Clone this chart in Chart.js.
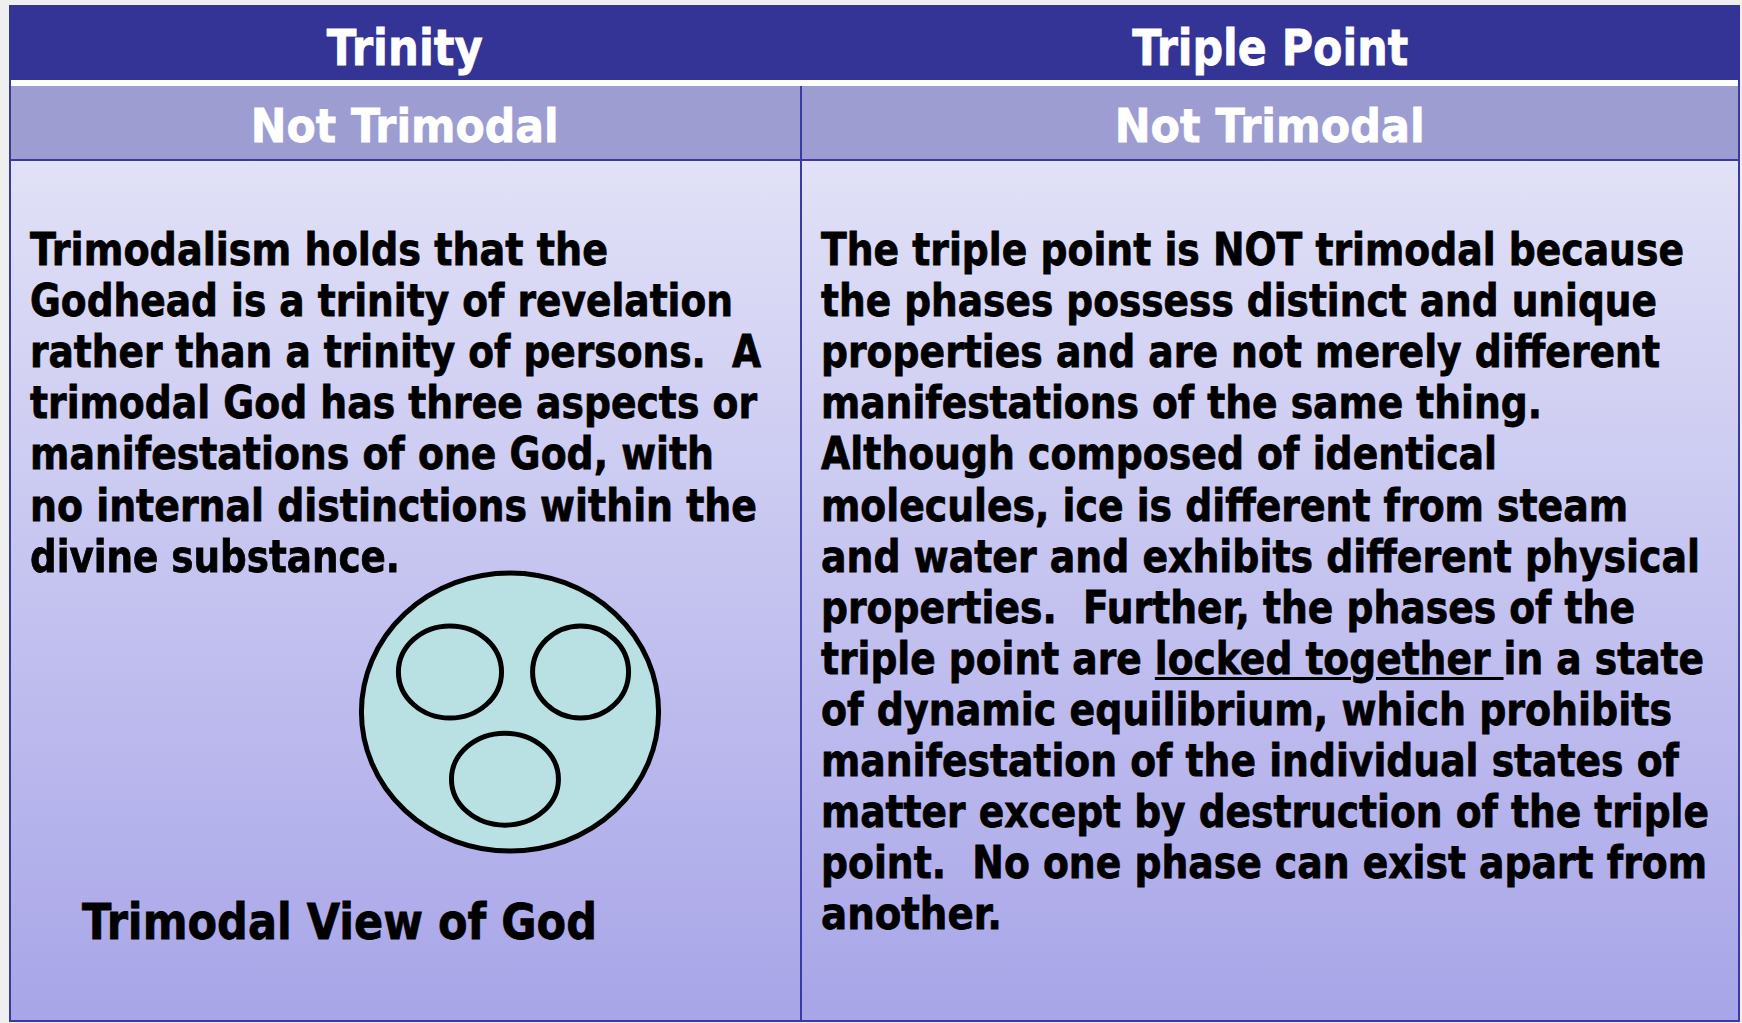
<!DOCTYPE html>
<html lang="en">
<head>
<meta charset="utf-8">
<title>Trinity / Triple Point</title>
<script src="https://cdn.jsdelivr.net/npm/chart.js@4.4.1/dist/chart.umd.min.js"></script>
<style>
    html, body { margin: 0; padding: 0; }
    body {
        width: 1742px; height: 1023px; position: relative; overflow: hidden;
        background: #efefef;
        font-family: "DejaVu Sans", Verdana, sans-serif; font-weight: bold;
    }
    .abs { position: absolute; }
    #moldura { left: 9px; top: 5px; width: 1731px; height: 1017px; box-sizing: border-box;
        border: 2px solid #3a3aa6; border-top: none; background: #fff; }
    #cabecalho { left: 9px; top: 5px; width: 1731px; height: 75px; background: #343497; }
    #faixa { left: 11px; top: 80px; width: 1727px; height: 6px; background: #fff; }
    #subcabecalho { left: 11px; top: 86px; width: 1727px; height: 73px; background: #9d9dd2; }
    #linha { left: 11px; top: 159px; width: 1727px; height: 2px; background: #3a3aa6; }
    #corpo { left: 11px; top: 161px; width: 1727px; height: 859px;
        background: linear-gradient(#e1e1f7, #a8a5e8); }
    #divisor { left: 800px; top: 86px; width: 2px; height: 936px; background: #3a3aa6; }
    .titulo { color: #fff; white-space: pre; -webkit-text-stroke: 0.8px #fff; }
    .texto { color: #000; white-space: pre; font-size: 44px; transform-origin: left center;
        -webkit-text-stroke: 0.8px #000; }
    .sublinhado { text-decoration: underline; text-decoration-thickness: 3px; text-underline-offset: 3px; }
    #grafico { left: 354px; top: 566px; }
</style>
</head>
<body>
<div id="moldura" class="abs"></div>
<div id="cabecalho" class="abs"></div>
<div id="faixa" class="abs"></div>
<div id="subcabecalho" class="abs"></div>
<div id="linha" class="abs"></div>
<div id="corpo" class="abs"></div>
<div id="divisor" class="abs"></div>
<canvas id="grafico" class="abs" width="312" height="292" style="width:312px;height:292px"></canvas>

<script>
const titulos = ['Trinity', 'Triple Point'];
const subtitulos = ['Not Trimodal', 'Not Trimodal'];

const textoEsquerda = [
    'Trimodalism holds that the',
    'Godhead is a trinity of revelation',
    'rather than a trinity of persons.  A',
    'trimodal God has three aspects or',
    'manifestations of one God, with',
    'no internal distinctions within the',
    'divine substance.'
];

const textoDireita = [
    'The triple point is NOT trimodal because',
    'the phases possess distinct and unique',
    'properties and are not merely different',
    'manifestations of the same thing.',
    'Although composed of identical',
    'molecules, ice is different from steam',
    'and water and exhibits different physical',
    'properties.  Further, the phases of the',
    'triple point are [locked together ]in a state',
    'of dynamic equilibrium, which prohibits',
    'manifestation of the individual states of',
    'matter except by destruction of the triple',
    'point.  No one phase can exist apart from',
    'another.'
];

const legendaDiagrama = 'Trimodal View of God';

// diagrama: elipse externa (o Deus) e tres modos
const circulos = ['God', 'Mode 1', 'Mode 2', 'Mode 3'];
const centroX = [0, -0.404, 0.475, -0.034];
const centroY = [0, 0.288, 0.288, -0.483];
const raioX = [1, 0.347, 0.323, 0.360];
const raioY = [1, 0.331, 0.331, 0.331];

// layout (px)
const centroColunas = [405, 1270];
const larguraTitulos = [156, 276];
const larguraSubtitulos = [308, 310];
const inicioColunas = [30, 821];
const fimEsquerda = [608, 733, 761, 757, 714, 757, 400];
const fimDireita = [1684, 1657, 1660, 1542, 1497, 1628, 1700, 1635, 1704, 1672, 1679, 1709, 1707, 1002];
const primeiraBase = 265;
const passoLinha = 51.1;

function criarLinha(html, classe) {
    const el = document.createElement('div');
    el.className = 'abs ' + classe;
    el.innerHTML = html;
    document.body.appendChild(el);
    return el;
}

function posicionarBase(el, base) {
    el.style.top = '0px';
    const marca = document.createElement('span');
    marca.style.display = 'inline-block';
    marca.style.width = '0';
    marca.style.height = '0';
    el.appendChild(marca);
    const off = marca.getBoundingClientRect().bottom - el.getBoundingClientRect().top;
    marca.remove();
    el.style.top = (base - off) + 'px';
}

function ajustarLargura(el, largura) {
    const natural = el.getBoundingClientRect().width;
    el.style.transform = `scaleX(${largura / natural})`;
    return natural;
}

function desenharTitulo(texto, centro, largura, base, tamanho) {
    const el = criarLinha(texto, 'titulo');
    el.style.fontSize = tamanho + 'px';
    el.style.left = '0px';
    const natural = ajustarLargura(el, largura);
    el.style.transformOrigin = 'center center';
    el.style.left = (centro - natural / 2) + 'px';
    posicionarBase(el, base);
}

function desenharTexto(linhas, inicio, fins, base) {
    linhas.forEach((linha, i) => {
        const html = linha.replace('[', '<span class="sublinhado">').replace(']', '</span>');
        const el = criarLinha(html, 'texto');
        el.style.left = inicio + 'px';
        ajustarLargura(el, fins[i] - inicio);
        posicionarBase(el, base + i * passoLinha);
    });
}

function gerarGrafico() {
    const ctx = document.getElementById('grafico').getContext('2d');

    const elipses = {
        id: 'elipses',
        afterDatasetsDraw(chart) {
            const { ctx, scales: { x, y } } = chart;
            const ds = chart.data.datasets[0];
            ds.data.forEach(p => {
                const cx = x.getPixelForValue(p.x);
                const cy = y.getPixelForValue(p.y);
                const rx = Math.abs(x.getPixelForValue(p.x + p.rx) - cx);
                const ry = Math.abs(y.getPixelForValue(p.y + p.ry) - cy);
                ctx.save();
                ctx.beginPath();
                ctx.ellipse(cx, cy, rx, ry, 0, 0, Math.PI * 2);
                ctx.fillStyle = ds.backgroundColor;
                ctx.fill();
                ctx.lineWidth = ds.borderWidth;
                ctx.strokeStyle = ds.borderColor;
                ctx.stroke();
                ctx.restore();
            });
        }
    };

    new Chart(ctx, {
        type: 'scatter',
        data: {
            datasets: [{
                label: legendaDiagrama,
                data: circulos.map((nome, i) => ({ nome, x: centroX[i], y: centroY[i], rx: raioX[i], ry: raioY[i] })),
                pointRadius: 0,
                backgroundColor: '#b9e0e2',
                borderColor: '#000000',
                borderWidth: 5
            }]
        },
        options: {
            responsive: false,
            animation: false,
            layout: { padding: 0 },
            plugins: { legend: { display: false }, tooltip: { enabled: false } },
            scales: {
                x: { type: 'linear', min: -1.05, max: 1.05, display: false },
                y: { type: 'linear', min: -1.05, max: 1.05, display: false }
            }
        },
        plugins: [elipses]
    });
}

document.addEventListener('DOMContentLoaded', () => {
    titulos.forEach((t, i) => desenharTitulo(t, centroColunas[i], larguraTitulos[i], 65, 50));
    subtitulos.forEach((t, i) => desenharTitulo(t, centroColunas[i], larguraSubtitulos[i], 141.5, 47));
    desenharTexto(textoEsquerda, inicioColunas[0], fimEsquerda, primeiraBase);
    desenharTexto(textoDireita, inicioColunas[1], fimDireita, primeiraBase);

    const legenda = criarLinha(legendaDiagrama, 'texto');
    legenda.style.fontSize = '50px';
    legenda.style.left = '82px';
    ajustarLargura(legenda, 515);
    posicionarBase(legenda, 939);

    gerarGrafico();
});
</script>
</body>
</html>
